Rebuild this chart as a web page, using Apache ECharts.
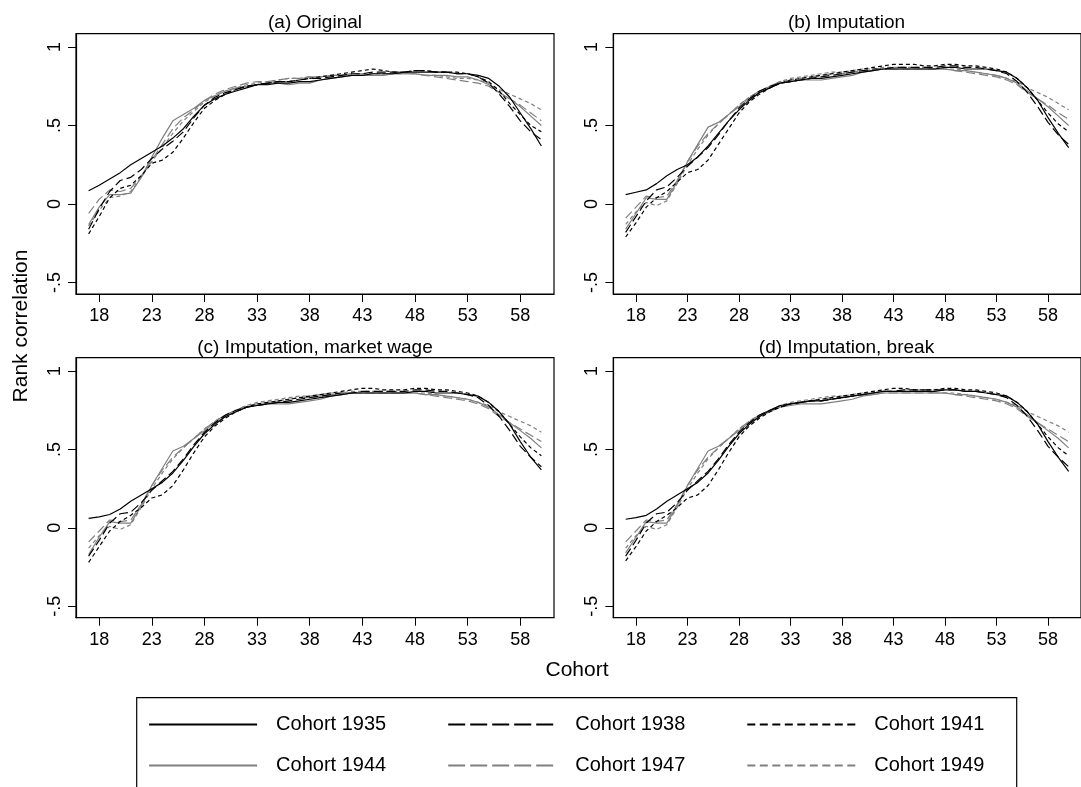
<!DOCTYPE html>
<html><head><meta charset="utf-8">
<script src="https://cdn.jsdelivr.net/npm/echarts@6/dist/echarts.min.js"></script>
<style>html,body{margin:0;padding:0;background:#fff}#c{width:1081px;height:787px}</style>
</head><body><div id="c"></div>
<script>
const ages = [17,18,19,20,21,22,23,24,25,26,27,28,29,30,31,32,33,34,35,36,37,38,39,40,41,42,43,44,45,46,47,48,49,50,51,52,53,54,55,56,57,58,59,60];
const xTicks = [18,23,28,33,38,43,48,53,58];
const yTicks = [-0.5,0,0.5,1];
const yTickLabels = ['-.5','0','.5','1'];
const cohorts = ['Cohort 1935','Cohort 1938','Cohort 1941','Cohort 1944','Cohort 1947','Cohort 1949'];
const panelTitles = ['(a) Original','(b) Imputation','(c) Imputation, market wage','(d) Imputation, break'];
const xTitle = 'Cohort';
const yTitle = 'Rank correlation';

// (a) Original
const a1935 = [0.085,0.12,0.16,0.20,0.25,0.29,0.33,0.37,0.42,0.48,0.56,0.63,0.67,0.70,0.72,0.74,0.76,0.76,0.77,0.77,0.78,0.78,0.79,0.80,0.81,0.82,0.82,0.83,0.83,0.83,0.84,0.84,0.84,0.84,0.84,0.83,0.83,0.82,0.80,0.75,0.68,0.58,0.48,0.37];
const a1938 = [-0.16,-0.03,0.08,0.15,0.17,0.22,0.29,0.35,0.40,0.46,0.55,0.63,0.68,0.71,0.73,0.75,0.76,0.77,0.78,0.78,0.79,0.80,0.80,0.81,0.82,0.83,0.83,0.84,0.84,0.84,0.84,0.85,0.85,0.84,0.84,0.83,0.83,0.81,0.77,0.70,0.62,0.53,0.46,0.41];
const a1941 = [-0.19,-0.08,0.04,0.10,0.12,0.18,0.26,0.28,0.33,0.42,0.52,0.61,0.66,0.70,0.73,0.75,0.76,0.77,0.78,0.78,0.79,0.80,0.81,0.82,0.83,0.84,0.85,0.86,0.85,0.84,0.84,0.85,0.85,0.84,0.84,0.84,0.83,0.81,0.78,0.72,0.64,0.57,0.50,0.46];
const a1944 = [-0.13,-0.02,0.06,0.06,0.07,0.17,0.30,0.42,0.53,0.57,0.61,0.66,0.69,0.72,0.74,0.75,0.76,0.77,0.77,0.76,0.77,0.77,0.79,0.80,0.81,0.82,0.82,0.82,0.82,0.83,0.83,0.83,0.82,0.82,0.82,0.81,0.81,0.79,0.76,0.71,0.67,0.62,0.56,0.50];
const a1947 = [-0.06,0.03,0.09,0.08,0.10,0.18,0.28,0.38,0.48,0.55,0.60,0.66,0.70,0.73,0.75,0.77,0.78,0.78,0.79,0.80,0.80,0.81,0.81,0.82,0.82,0.83,0.83,0.83,0.83,0.83,0.83,0.83,0.82,0.81,0.80,0.79,0.78,0.77,0.75,0.71,0.67,0.63,0.58,0.53];
const a1949 = [-0.14,-0.04,0.04,0.05,0.08,0.17,0.27,0.36,0.45,0.53,0.59,0.65,0.69,0.72,0.74,0.76,0.77,0.78,0.79,0.80,0.80,0.81,0.81,0.82,0.82,0.83,0.83,0.83,0.83,0.83,0.83,0.83,0.82,0.82,0.81,0.80,0.80,0.79,0.77,0.73,0.70,0.67,0.64,0.60];

// (b) Imputation
const b1935 = [0.06,0.075,0.09,0.13,0.18,0.22,0.25,0.30,0.37,0.45,0.53,0.60,0.66,0.71,0.74,0.77,0.78,0.79,0.80,0.80,0.81,0.82,0.83,0.84,0.85,0.86,0.86,0.86,0.86,0.86,0.86,0.87,0.87,0.86,0.86,0.86,0.85,0.84,0.80,0.74,0.66,0.55,0.45,0.36];
const b1938 = [-0.18,-0.08,0.02,0.09,0.11,0.17,0.24,0.30,0.36,0.44,0.53,0.61,0.67,0.72,0.75,0.77,0.78,0.79,0.80,0.81,0.82,0.83,0.84,0.85,0.86,0.86,0.87,0.87,0.87,0.87,0.87,0.88,0.88,0.87,0.87,0.86,0.85,0.83,0.78,0.71,0.62,0.52,0.44,0.38];
const b1941 = [-0.21,-0.12,-0.02,0.04,0.08,0.14,0.20,0.22,0.28,0.38,0.48,0.58,0.65,0.70,0.74,0.77,0.79,0.80,0.81,0.82,0.83,0.84,0.85,0.86,0.87,0.88,0.89,0.89,0.89,0.88,0.88,0.89,0.89,0.88,0.88,0.87,0.86,0.84,0.80,0.74,0.66,0.58,0.51,0.46];
const b1944 = [-0.16,-0.06,0.04,0.03,0.03,0.14,0.27,0.38,0.49,0.52,0.57,0.62,0.67,0.71,0.74,0.77,0.78,0.79,0.79,0.79,0.80,0.81,0.82,0.84,0.85,0.86,0.86,0.86,0.86,0.86,0.86,0.86,0.85,0.85,0.84,0.83,0.82,0.80,0.77,0.72,0.67,0.62,0.56,0.50];
const b1947 = [-0.09,-0.02,0.05,0.04,0.05,0.15,0.27,0.37,0.45,0.51,0.57,0.63,0.68,0.72,0.75,0.78,0.79,0.80,0.81,0.82,0.83,0.83,0.84,0.85,0.85,0.86,0.86,0.86,0.86,0.86,0.86,0.86,0.85,0.84,0.83,0.82,0.81,0.79,0.76,0.71,0.67,0.63,0.58,0.54];
const b1949 = [-0.13,-0.05,0.01,-0.01,0.02,0.13,0.25,0.35,0.44,0.51,0.57,0.63,0.68,0.72,0.75,0.78,0.80,0.81,0.82,0.83,0.84,0.84,0.85,0.86,0.86,0.87,0.87,0.87,0.87,0.87,0.86,0.86,0.86,0.85,0.84,0.83,0.82,0.80,0.78,0.74,0.71,0.68,0.64,0.60];

// (c) Imputation, market wage
const c1935 = [0.06,0.07,0.085,0.12,0.17,0.21,0.25,0.29,0.35,0.43,0.52,0.60,0.66,0.71,0.74,0.77,0.78,0.79,0.80,0.80,0.81,0.82,0.83,0.84,0.85,0.86,0.86,0.86,0.86,0.86,0.86,0.87,0.87,0.86,0.86,0.86,0.85,0.84,0.80,0.74,0.66,0.55,0.45,0.37];
const c1938 = [-0.18,-0.08,0.03,0.09,0.10,0.16,0.24,0.30,0.36,0.44,0.53,0.61,0.67,0.72,0.75,0.77,0.78,0.79,0.80,0.81,0.82,0.83,0.84,0.85,0.86,0.86,0.87,0.87,0.87,0.87,0.87,0.88,0.88,0.87,0.87,0.86,0.85,0.83,0.78,0.71,0.62,0.52,0.45,0.39];
const c1941 = [-0.22,-0.12,-0.02,0.04,0.08,0.13,0.19,0.21,0.27,0.37,0.48,0.58,0.65,0.70,0.74,0.77,0.79,0.80,0.81,0.82,0.83,0.84,0.85,0.86,0.87,0.88,0.89,0.89,0.88,0.88,0.88,0.89,0.89,0.88,0.88,0.87,0.86,0.84,0.80,0.74,0.66,0.58,0.51,0.46];
const c1944 = [-0.17,-0.06,0.04,0.03,0.03,0.14,0.27,0.38,0.49,0.52,0.57,0.62,0.67,0.71,0.74,0.77,0.78,0.79,0.79,0.79,0.80,0.81,0.82,0.84,0.85,0.86,0.86,0.86,0.86,0.86,0.86,0.86,0.85,0.85,0.84,0.83,0.82,0.80,0.77,0.72,0.67,0.62,0.57,0.51];
const c1947 = [-0.09,-0.02,0.05,0.04,0.05,0.15,0.27,0.37,0.45,0.51,0.57,0.63,0.68,0.72,0.75,0.78,0.79,0.80,0.81,0.82,0.83,0.83,0.84,0.85,0.85,0.86,0.86,0.86,0.86,0.86,0.86,0.86,0.85,0.84,0.83,0.82,0.81,0.79,0.76,0.71,0.67,0.63,0.59,0.55];
const c1949 = [-0.13,-0.05,0.01,-0.01,0.02,0.13,0.25,0.35,0.44,0.51,0.57,0.63,0.68,0.72,0.75,0.78,0.80,0.81,0.82,0.83,0.84,0.84,0.85,0.86,0.86,0.87,0.87,0.87,0.87,0.87,0.86,0.86,0.86,0.85,0.84,0.83,0.82,0.80,0.78,0.74,0.71,0.68,0.65,0.61];

// (d) Imputation, break
const d1935 = [0.055,0.065,0.08,0.12,0.17,0.21,0.25,0.29,0.35,0.43,0.52,0.60,0.66,0.71,0.75,0.78,0.79,0.80,0.81,0.81,0.82,0.83,0.84,0.85,0.86,0.87,0.87,0.87,0.87,0.87,0.87,0.88,0.88,0.87,0.87,0.86,0.85,0.84,0.80,0.74,0.66,0.55,0.45,0.36];
const d1938 = [-0.18,-0.08,0.03,0.09,0.10,0.16,0.24,0.30,0.36,0.44,0.53,0.61,0.67,0.72,0.75,0.77,0.79,0.80,0.81,0.81,0.82,0.83,0.84,0.85,0.86,0.87,0.87,0.88,0.88,0.88,0.88,0.88,0.88,0.87,0.87,0.86,0.85,0.83,0.78,0.71,0.62,0.52,0.45,0.39];
const d1941 = [-0.21,-0.12,-0.02,0.04,0.08,0.13,0.19,0.21,0.27,0.37,0.48,0.58,0.65,0.70,0.74,0.77,0.79,0.80,0.81,0.82,0.83,0.84,0.85,0.86,0.87,0.88,0.89,0.89,0.88,0.88,0.88,0.89,0.89,0.88,0.88,0.87,0.86,0.84,0.80,0.74,0.66,0.58,0.51,0.46];
const d1944 = [-0.16,-0.06,0.04,0.03,0.03,0.14,0.27,0.38,0.49,0.52,0.57,0.62,0.67,0.71,0.74,0.77,0.78,0.79,0.79,0.79,0.80,0.81,0.82,0.84,0.85,0.86,0.86,0.86,0.86,0.86,0.86,0.86,0.85,0.85,0.84,0.83,0.82,0.80,0.77,0.72,0.67,0.62,0.57,0.51];
const d1947 = [-0.09,-0.02,0.05,0.04,0.05,0.15,0.27,0.37,0.45,0.51,0.57,0.63,0.68,0.72,0.75,0.78,0.79,0.80,0.81,0.82,0.83,0.83,0.84,0.85,0.85,0.86,0.86,0.86,0.86,0.86,0.86,0.86,0.85,0.84,0.83,0.82,0.81,0.79,0.76,0.71,0.67,0.63,0.59,0.55];
const d1949 = [-0.13,-0.05,0.01,-0.01,0.02,0.13,0.25,0.35,0.44,0.51,0.57,0.63,0.68,0.72,0.75,0.78,0.80,0.81,0.82,0.83,0.84,0.84,0.85,0.86,0.86,0.87,0.87,0.87,0.87,0.87,0.86,0.86,0.86,0.85,0.84,0.83,0.82,0.80,0.78,0.74,0.71,0.68,0.65,0.61];

const panels = [
  [a1935,a1938,a1941,a1944,a1947,a1949],
  [b1935,b1938,b1941,b1944,b1947,b1949],
  [c1935,c1938,c1941,c1944,c1947,c1949],
  [d1935,d1938,d1941,d1944,d1947,d1949]
];

const FONT = '"Liberation Sans", Arial, Helvetica, sans-serif';
const BLACK = '#000000', GRAY = '#808080';
const lineColors = [BLACK, BLACK, BLACK, GRAY, GRAY, GRAY];
const plotDash = ['solid', [9,4], [4,3], 'solid', [9,4], [4,3]];
const legendDash = ['solid', [17,5], [8,4.5], 'solid', [17,5], [8,4.5]];

const gridBoxes = [
  {left: 76, top: 33.7, width: 478, height: 260.3},
  {left: 613.3, top: 33.7, width: 478, height: 260.3},
  {left: 76, top: 357.7, width: 478, height: 260},
  {left: 613.3, top: 357.7, width: 478, height: 260}
];
const titleCenters = [[315, 23], [846.5, 23], [315, 347.5], [846.5, 347.5]];

const chart = echarts.init(document.getElementById('c'), null, {renderer: 'canvas'});

const grid = gridBoxes.map(g => Object.assign({show: true, borderColor: BLACK, borderWidth: 1.2, backgroundColor: '#fff'}, g));
const xAxis = gridBoxes.map((g, i) => ({
  type: 'value', gridIndex: i, min: 15.8, max: 61.2,
  axisLine: {show: true, onZero: false, lineStyle: {color: BLACK, width: 1.2}},
  axisTick: {show: true, customValues: xTicks, length: 8, inside: false, lineStyle: {color: BLACK, width: 1}},
  axisLabel: {customValues: xTicks, color: BLACK, fontSize: 18, fontFamily: FONT, margin: 13},
  splitLine: {show: false}
}));
const yAxis = gridBoxes.map((g, i) => ({
  type: 'value', gridIndex: i, min: -0.573, max: 1.085,
  axisLine: {show: true, onZero: false, lineStyle: {color: BLACK, width: 1.2}},
  axisTick: {show: true, customValues: yTicks, length: 8, inside: false, lineStyle: {color: BLACK, width: 1}},
  axisLabel: {customValues: yTicks, rotate: 90, color: BLACK, fontSize: 18, fontFamily: FONT, margin: 12,
    formatter: v => { const k = yTicks.findIndex(t => Math.abs(t - v) < 1e-9); return k >= 0 ? yTickLabels[k] : ''; }},
  splitLine: {show: false}
}));

const series = [];
panels.forEach((arrs, p) => {
  arrs.forEach((vals, j) => {
    series.push({
      type: 'line', name: cohorts[j], xAxisIndex: p, yAxisIndex: p,
      data: ages.map((a, k) => [a, vals[k]]),
      symbol: 'none', showSymbol: false, smooth: false, silent: true,
      lineStyle: {color: lineColors[j], width: 1.2, type: plotDash[j]},
      itemStyle: {color: lineColors[j]},
      z: 10 - j
    });
  });
});

const graphic = [];
panelTitles.forEach((t, i) => {
  graphic.push({type: 'text', x: titleCenters[i][0], y: titleCenters[i][1], silent: true,
    style: {text: t, fill: BLACK, font: '19px ' + FONT, align: 'center', verticalAlign: 'middle', textAlign: 'center', textVerticalAlign: 'middle'}});
});
graphic.push({type: 'text', x: 577, y: 670, silent: true,
  style: {text: xTitle, fill: BLACK, font: '21px ' + FONT, align: 'center', verticalAlign: 'middle', textAlign: 'center', textVerticalAlign: 'middle'}});
graphic.push({type: 'text', x: 21, y: 326, rotation: Math.PI / 2, silent: true,
  style: {text: yTitle, fill: BLACK, font: '21px ' + FONT, align: 'center', verticalAlign: 'middle', textAlign: 'center', textVerticalAlign: 'middle'}});
graphic.push({type: 'rect', silent: true, shape: {x: 136.7, y: 697.7, width: 880, height: 100},
  style: {fill: 'none', stroke: BLACK, lineWidth: 1.2}, z: -1});

const option = {
  animation: false,
  backgroundColor: '#ffffff',
  grid, xAxis, yAxis, series, graphic,
  legend: {
    show: true, orient: 'horizontal', left: 148, top: 709, width: 890, padding: 0,
    itemWidth: 108, itemHeight: 14, itemGap: 10, selectedMode: false,
    textStyle: {color: BLACK, fontSize: 20, fontFamily: FONT, width: 161, height: 31, lineHeight: 31, padding: [0, 0, 0, 14]},
    itemStyle: {opacity: 0},
    data: cohorts.map((n, j) => ({name: n, lineStyle: {color: lineColors[j], width: 2.2, type: legendDash[j]}}))
  }
};
chart.setOption(option);
</script>
</body></html>
